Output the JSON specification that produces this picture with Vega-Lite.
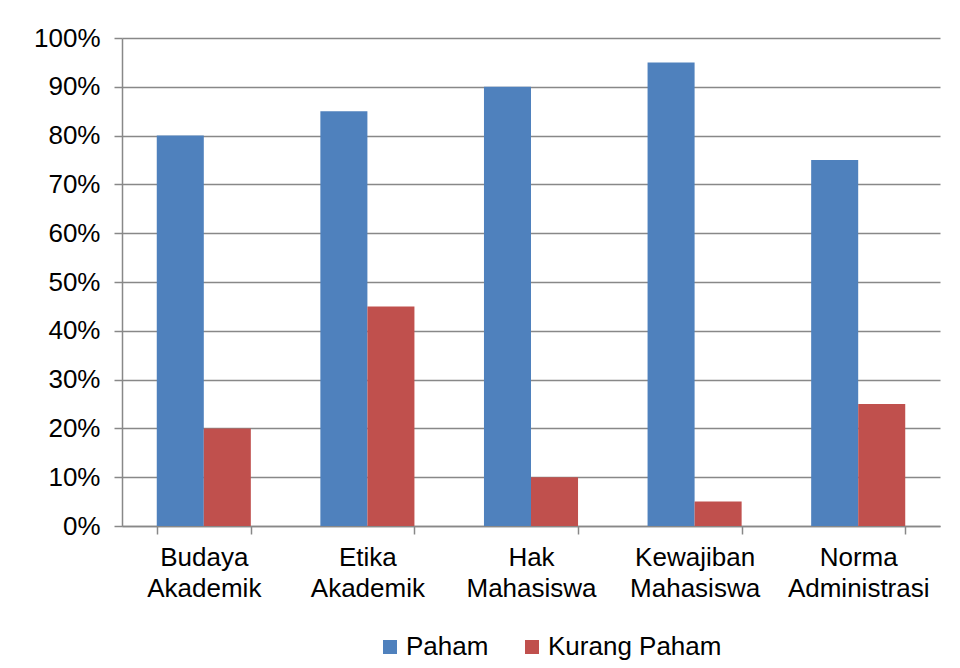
{
  "$schema": "https://vega.github.io/schema/vega-lite/v6.json",
  "width": 818,
  "height": 488,
  "autosize": {"type": "none"},
  "padding": {"left": 122, "top": 38, "right": 20, "bottom": 142},
  "background": "white",
  "config": {
    "font": "Liberation Sans",
    "view": {"stroke": null}
  },
  "data": {
    "values": [
      {"aspek": "Budaya Akademik", "kategori": "Paham", "nilai": 0.80},
      {"aspek": "Budaya Akademik", "kategori": "Kurang Paham", "nilai": 0.20},
      {"aspek": "Etika Akademik", "kategori": "Paham", "nilai": 0.85},
      {"aspek": "Etika Akademik", "kategori": "Kurang Paham", "nilai": 0.45},
      {"aspek": "Hak Mahasiswa", "kategori": "Paham", "nilai": 0.90},
      {"aspek": "Hak Mahasiswa", "kategori": "Kurang Paham", "nilai": 0.10},
      {"aspek": "Kewajiban Mahasiswa", "kategori": "Paham", "nilai": 0.95},
      {"aspek": "Kewajiban Mahasiswa", "kategori": "Kurang Paham", "nilai": 0.05},
      {"aspek": "Norma Administrasi", "kategori": "Paham", "nilai": 0.75},
      {"aspek": "Norma Administrasi", "kategori": "Kurang Paham", "nilai": 0.25}
    ]
  },
  "mark": {"type": "bar"},
  "encoding": {
    "x": {
      "field": "aspek",
      "type": "nominal",
      "sort": null,
      "scale": {"paddingInner": 0.425, "paddingOuter": 0.2125},
      "axis": {
        "title": null,
        "labelAngle": 0,
        "labelExpr": "split(datum.label, ' ')",
        "labelFontSize": 26,
        "labelColor": "black",
        "labelLineHeight": 31,
        "labelPadding": 10,
        "tickBand": "extent",
        "tickSize": 8,
        "tickColor": "#888888",
        "tickWidth": 1.5,
        "domainColor": "#888888",
        "domainWidth": 1.5
      }
    },
    "xOffset": {
      "field": "kategori",
      "type": "nominal",
      "sort": ["Paham", "Kurang Paham"],
      "scale": {"paddingInner": 0, "paddingOuter": 0}
    },
    "y": {
      "field": "nilai",
      "type": "quantitative",
      "scale": {"domain": [0, 1], "nice": false},
      "axis": {
        "title": null,
        "format": ".0%",
        "values": [0, 0.1, 0.2, 0.3, 0.4, 0.5, 0.6, 0.7, 0.8, 0.9, 1],
        "labelFontSize": 26,
        "labelColor": "black",
        "labelPadding": 14,
        "tickSize": 8,
        "tickColor": "#888888",
        "tickWidth": 1.5,
        "domainColor": "#888888",
        "domainWidth": 1.5,
        "grid": true,
        "gridColor": "#888888",
        "gridWidth": 1.5
      }
    },
    "color": {
      "field": "kategori",
      "type": "nominal",
      "sort": ["Paham", "Kurang Paham"],
      "scale": {"domain": ["Paham", "Kurang Paham"], "range": ["#4F81BD", "#C0504D"]},
      "legend": {
        "title": null,
        "orient": "none",
        "direction": "horizontal",
        "legendX": 255,
        "legendY": 596,
        "symbolType": "square",
        "symbolSize": 196,
        "symbolStrokeWidth": 0,
        "labelFontSize": 26,
        "labelColor": "black",
        "labelOffset": 3,
        "labelLimit": 400,
        "columnPadding": 30
      }
    }
  }
}
